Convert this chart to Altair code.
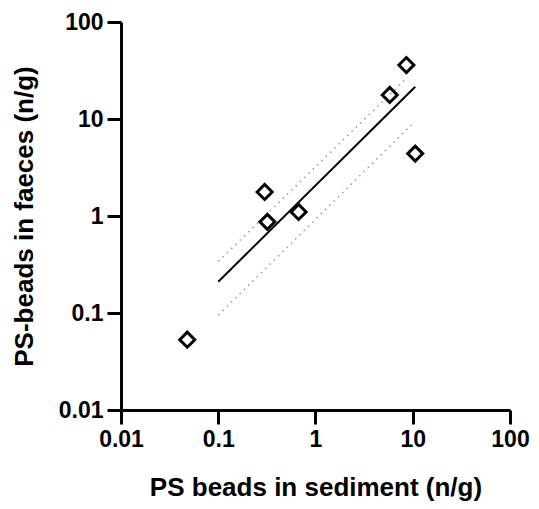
import altair as alt
import pandas as pd

# Data
sediment = [0.048, 0.30, 0.32, 0.67, 5.8, 8.6, 10.6]
faeces = [0.053, 1.77, 0.87, 1.1, 17.7, 36.0, 4.4]

fit_x = [0.1, 10.6]
fit_y = [0.21, 21.5]
upper_x = [0.1, 8.2]
upper_y = [0.34, 25.0]
lower_x = [0.1, 9.7]
lower_y = [0.095, 8.7]

tick_vals = [0.01, 0.1, 1, 10, 100]

pts = pd.DataFrame({"x": sediment, "y": faeces})
fit = pd.DataFrame({"x": fit_x, "y": fit_y})
band = pd.DataFrame({
    "x": upper_x + lower_x,
    "y": upper_y + lower_y,
    "band": ["upper"] * len(upper_x) + ["lower"] * len(lower_x),
})

FONT = "Liberation Sans"

xscale = alt.Scale(type="log", domain=[0.01, 100], nice=False)
yscale = alt.Scale(type="log", domain=[0.01, 100], nice=False)

axis_common = dict(
    values=tick_vals, format="~g", grid=False,
    domainColor="black", domainWidth=3, tickColor="black", tickWidth=3,
    tickSize=14, labelFont=FONT, labelFontSize=23, labelFontWeight="bold",
    labelColor="black", titleFont=FONT, titleFontSize=26, titleFontWeight="bold",
    titleColor="black", labelPadding=4,
)

xenc = alt.X("x:Q", scale=xscale,
             axis=alt.Axis(title="PS beads in sediment (n/g)", titlePadding=23, labelFlush=False, **axis_common))
yenc = alt.Y("y:Q", scale=yscale,
             axis=alt.Axis(title="PS-beads in faeces (n/g)", titlePadding=21, labelFlush=False, **axis_common))

bands = alt.Chart(band).mark_line(color="#999999", strokeWidth=1.5, strokeDash=[1.5, 4.5]).encode(
    x=xenc, y=yenc, detail="band:N")
line = alt.Chart(fit).mark_line(color="black", strokeWidth=2).encode(x=xenc, y=yenc)
points = alt.Chart(pts).mark_point(shape="diamond", filled=False, size=225, strokeWidth=3,
                                   color="black", opacity=1).encode(x=xenc, y=yenc)

chart = alt.layer(bands, line, points).properties(
    width=389, height=388,
    autosize=alt.AutoSizeParams(type="none"),
    padding={"left": 113, "top": 14, "right": 21, "bottom": 91},
).configure_view(stroke=None)

chart.save("out.html", embed_options={"renderer": "svg", "actions": False})
